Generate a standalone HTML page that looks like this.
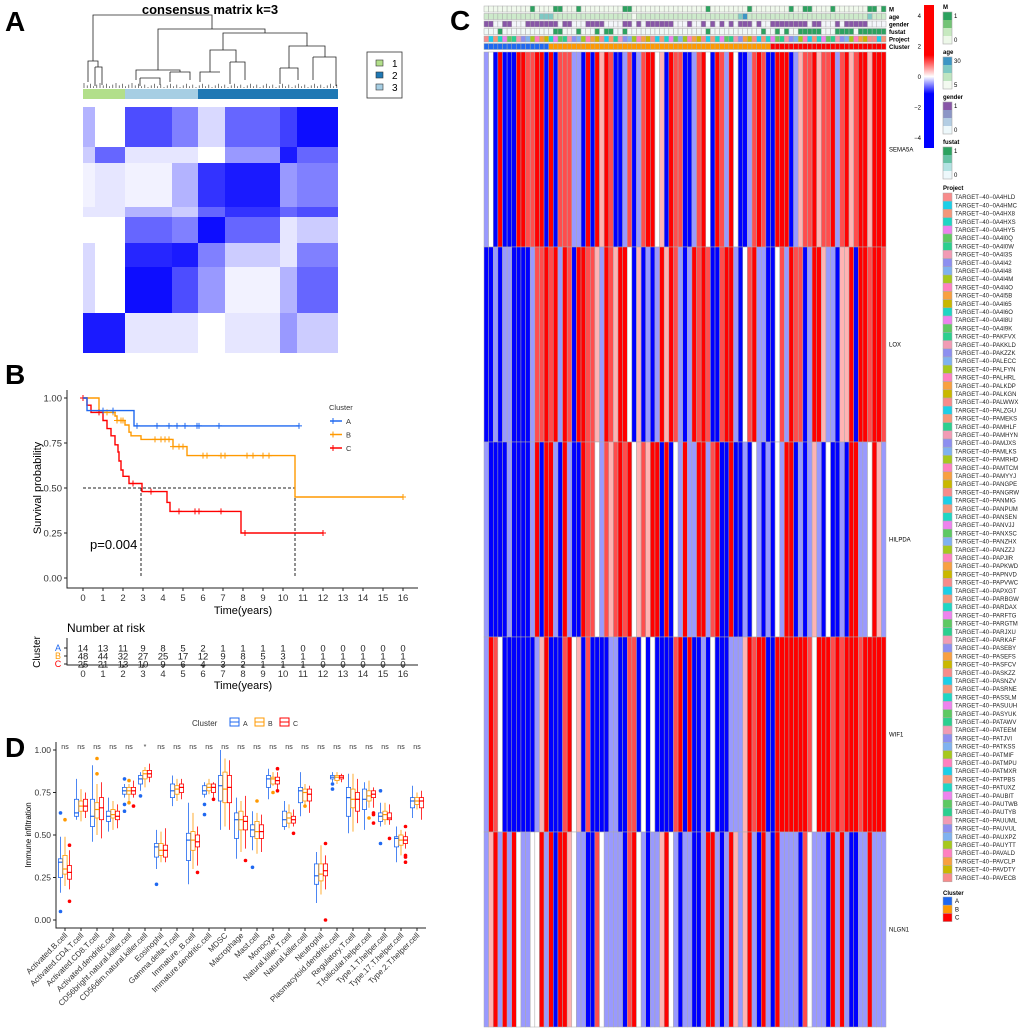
<!DOCTYPE html>
<html><head><meta charset="utf-8"><style>
html,body{margin:0;padding:0;background:#fff;}
svg{display:block;font-family:"Liberation Sans",sans-serif;}
</style></head><body>
<svg id="fig" width="1020" height="1035" viewBox="0 0 1020 1035" xmlns="http://www.w3.org/2000/svg">
<rect width="1020" height="1035" fill="#fff"/>
<text x="5" y="31" font-size="28" font-weight="bold">A</text>
<text x="5" y="384" font-size="28" font-weight="bold">B</text>
<text x="450" y="30" font-size="28" font-weight="bold">C</text>
<text x="5" y="757" font-size="28" font-weight="bold">D</text>
<g id="pa"></g>
<g id="pb"></g>
<g id="pc"></g>
<g id="pd"></g>
</svg>
<script>
// ---------- Panel A data ----------
const consRowBreaks = [107,147,163,207,217,243,267,313,353];
const consColBreaks = [83,95,125,172,198,225,280,297,338];
const consIntensity = [
 [.3,0,.7,.5,.15,.6,.75,.95],
 [.2,.6,.1,.1,0,.4,.9,.6],
 [.05,.1,.05,.3,.8,.9,.4,.5],
 [.1,.1,.3,.2,.6,.8,.6,.7],
 [0,0,.6,.5,.95,.6,.1,.2],
 [.15,0,.85,.9,.5,.2,.1,.5],
 [.15,0,.95,.7,.4,.05,.3,.6],
 [.9,.9,.1,.1,0,.1,.4,.2]
];
const consGroups = ["1","3","2"];
const consGroupEnds = [125,198,338];
// ---------- Panel B data ----------
const kmTimesA = [0,0.2,2.55,10.8];
const kmSurvA = [1,0.93,0.845,0.845];
const kmCensA = [1,1.5,2.7,3.7,4.3,4.7,5.1,5.7,5.8,6.8,10.8];
const kmTimesB = [0,0.8,1.6,1.7,2.1,2.3,2.4,2.9,4.5,5.2,10.6,16];
const kmSurvB = [1,0.92,0.9,0.875,0.85,0.81,0.79,0.77,0.73,0.68,0.45,0.45];
const kmCensB = [1.2,1.5,1.7,1.9,2.0,3.6,3.9,4.1,4.3,4.5,4.8,5.0,6.0,6.2,6.9,7.1,8.2,8.5,9.0,9.3,16];
const kmTimesC = [0,0.2,0.4,1,1.2,1.4,1.6,1.75,1.8,1.9,2,2.3,2.95,4.2,4.35,7.9,12];
const kmSurvC = [1,0.96,0.92,0.875,0.83,0.79,0.74,0.7,0.65,0.6,0.565,0.525,0.48,0.42,0.37,0.25,0.25];
const kmCensC = [0,0.8,2.5,3.4,4.8,5.6,5.8,6.9,8.1,12];
const riskA = [14,13,11,9,8,5,2,1,1,1,1,0,0,0,0,0,0];
const riskB = [48,44,32,27,25,17,12,9,8,5,3,1,1,1,1,1,1];
const riskC = [25,21,13,10,9,6,4,3,2,1,1,1,0,0,0,0,0];
const kmYTicks = ["0.00","0.25","0.50","0.75","1.00"];
const medianTimes = [2.9,10.6];
// ---------- Panel C data ----------
const genes = ["SEMA5A","LOX","HILPDA","WIF1","NLGN1"];
const exprSEMA5A = [-0.8,0,-3,3,-3,-3,-3,3,3,1.4, 1.4,3,3,-3,3,-3,1.4,1.4,1.4,-0.8, -0.8,-3,3,-3,3,0.6,3,1.4,-3,-3, -0.8,1.4,-3,-0.8,1.4,3,3,0,0.6,-3, 3,1.4,1.4,-3,-3,-0.8,1.4,3,0,-3, 3,1.4,-0.8,3,0,-3,-3,-0.8,1.4,3, 1.4,-3,-3,3,3,3,-3,-0.8,0.6,1.4, 1.4,3,0.6,1.4,1.4,3,-0.8,1.4,3,0.6, 1.4,3,3,0.6,3,3,3];
const exprLOX = [-3,-3,-0.8,-3,-0.8,-0.8,-3,-3,-3,-3, -0.8,1.4,1.4,3,1.4,3,-0.8,3,1.4,-3, 3,3,1.4,1.4,0.6,-0.8,3,1.4,0.6,3, 3,0,-3,0.6,-3,-0.8,-3,-0.8,3,0.6, 3,1.4,-0.8,-3,-0.8,3,1.4,3,1.4,-3, -3,1.4,3,3,-0.8,-3,0,1.4,3,-0.8, -0.8,-3,-3,0,1.4,-0.8,3,1.4,1.4,-3, -0.8,3,3,0.6,-0.8,-0.8,-3,0.6,0.6,3, -3,3,3,1.4,3,3,1.4];
const exprHILPDA = [-0.8,-3,-3,-3,-3,-0.8,-3,-3,-3,-3, -0.8,3,-3,3,3,-0.8,-3,3,-0.8,-3, -3,3,1.4,1.4,0,-0.8,1.4,0.6,1.4,3, 1.4,3,0,0.6,1.4,0.6,3,3,-3,3, -3,0,-0.8,3,-0.8,-0.8,3,3,-0.8,1.4, 3,-3,-3,3,-3,-3,-0.8,-3,0,-0.8, -3,-0.8,-3,0,-0.8,3,3,-3,-0.8,-3, -0.8,0.6,-0.8,-3,0,-3,-3,-0.8,-3,3, 3,-0.8,-0.8,0,3,0.6,-0.8];
const exprWIF1 = [-0.8,3,1.4,0,-3,-3,-3,-3,-3,-3, -3,-0.8,0.6,3,-3,-3,-3,1.4,3,0, 0.6,-3,1.4,-3,-3,-3,-3,-0.8,-0.8,-3, -3,1.4,1.4,-3,0,-3,0,-3,-3,-3, -3,1.4,3,-3,3,-3,-3,-0.8,-3,0, -3,-3,-3,-0.8,-0.8,-0.8,0.6,3,1.4,3, 3,-3,-3,3,3,3,3,3,3,3, 1.4,0,3,3,3,1.4,3,1.4,3,3, 3,1.4,3,3,3,3,3];
const exprNLGN1 = [-0.8,0.6,3,-0.8,3,-0.8,3,0,-0.8,-0.8, 0,0,3,-0.8,3,-3,3,3,0.6,0, -0.8,-0.8,-3,-3,1.4,0,-0.8,-0.8,-0.8,-0.8, -3,1.4,3,0,-0.8,-3,-0.8,-0.8,0.6,3, 0,-0.8,-3,-0.8,-0.8,-3,-3,-0.8,3,3, -0.8,-3,-0.8,3,0.6,-0.8,0.6,3,-0.8,-3, 3,-0.8,-3,3,-0.8,-0.8,-0.8,-0.8,-3,1.4, 0,-0.8,-0.8,-0.8,-3,3,-0.8,3,-0.8,-3, -3,-0.8,-0.8,3,-0.8,-0.8,-0.8];
const clusterCounts = [14,48,25];
const clusterNames = ["A","B","C"];
const mOnes = [10,15,16,20,30,31,48,57,66,69,70,75,83,84,86];
const genderOnes = [0,1,4,5,9,10,11,12,13,14,15,17,18,22,23,24,25,30,31,33,35,36,37,38,39,40,44,47,49,51,53,55,56,57,59,62,63,64,65,66,67,68,69,71,72,76,78,79,80,81,82];
const fustatOnes = [3,15,16,20,24,26,27,30,48,60,63,65,68,69,70,71,72,76,77,78,79,81,82,83,84,85,86];
const ages = [10,11,9,12,10,11,13,10,9,12, 11,10,18,20,19,11,10,12,9,10, 11,12,10,9,11,10,12,11,10,9, 10,11,6,12,10,11,10,9,12,10, 11,10,9,12,11,10,12,10,11,9, 10,11,12,10,9,19,28,11,10,12, 10,9,11,10,12,11,10,9,12,10, 11,10,12,9,10,11,10,12,9,11, 10,12,10,19,11,10,9];
const projects = ["0A4HLD","0A4HMC","0A4HX8","0A4HXS","0A4HY5","0A4I0Q","0A4I0W","0A4I3S","0A4I42","0A4I48","0A4I4M","0A4I4O","0A4I5B","0A4I65","0A4I6O","0A4I8U","0A4I9K","PAKFVX","PAKKLD","PAKZZK","PALECC","PALFYN","PALHRL","PALKDP","PALKGN","PALWWX","PALZGU","PAMEKS","PAMHLF","PAMHYN","PAMJXS","PAMLKS","PAMRHD","PAMTCM","PAMYYJ","PANGPE","PANGRW","PANMIG","PANPUM","PANSEN","PANVJJ","PANXSC","PANZHX","PANZZJ","PAPJIR","PAPKWD","PAPNVD","PAPVWC","PAPXGT","PARBGW","PARDAX","PARFTG","PARGTM","PARJXU","PARKAF","PASEBY","PASEFS","PASFCV","PASKZZ","PASNZV","PASRNE","PASSLM","PASUUH","PASYUK","PATAWV","PATEEM","PATJVI","PATKSS","PATMIF","PATMPU","PATMXR","PATPBS","PATUXZ","PAUBIT","PAUTWB","PAUTYB","PAUUML","PAUVUL","PAUXPZ","PAUYTT","PAVALD","PAVCLP","PAVDTY","PAVECB"];
const heatTicks = [4,2,0,-2,-4];
// ---------- Panel D data ----------
const cellTypes = ["Activated.B.cell","Activated.CD4.T.cell","Activated.CD8.T.cell","Activated.dendritic.cell","CD56bright.natural.killer.cell","CD56dim.natural.killer.cell","Eosinophil","Gamma.delta.T.cell","Immature..B.cell","Immature.dendritic.cell","MDSC","Macrophage","Mast.cell","Monocyte","Natural.killer.T.cell","Natural.killer.cell","Neutrophil","Plasmacytoid.dendritic.cell","Regulatory.T.cell","T.follicular.helper.cell","Type.1.T.helper.cell","Type.17.T.helper.cell","Type.2.T.helper.cell"];
const sigLabels = ["ns","ns","ns","ns","ns","*","ns","ns","ns","ns","ns","ns","ns","ns","ns","ns","ns","ns","ns","ns","ns","ns","ns"];
const boxA = [[.16,.25,.34,.36,.49],[.59,.61,.63,.71,.83],[.46,.55,.61,.71,.91],[.52,.58,.61,.64,.72],[.72,.74,.76,.78,.8],[.76,.8,.83,.85,.87],[.3,.37,.43,.45,.53],[.67,.72,.76,.8,.85],[.21,.35,.47,.51,.69],[.72,.74,.76,.79,.81],[.53,.7,.79,.85,1.0],[.36,.48,.59,.63,.72],[.41,.49,.53,.56,.64],[.71,.78,.83,.85,.89],[.53,.55,.59,.64,.7],[.61,.69,.76,.78,.87],[.1,.21,.26,.33,.4],[.81,.83,.84,.85,.87],[.51,.61,.72,.78,.86],[.53,.65,.71,.77,.81],[.55,.58,.61,.63,.69],[.34,.43,.48,.49,.55],[.6,.66,.7,.72,.79]];
const boxB = [[.2,.27,.3,.38,.49],[.58,.64,.67,.7,.77],[.5,.6,.65,.69,.8],[.53,.6,.62,.65,.7],[.7,.74,.76,.78,.8],[.78,.83,.86,.88,.9],[.34,.38,.41,.45,.52],[.7,.74,.77,.79,.83],[.3,.41,.47,.52,.63],[.74,.76,.78,.8,.83],[.55,.69,.77,.87,.95],[.4,.53,.59,.64,.7],[.39,.48,.52,.58,.63],[.79,.8,.83,.84,.87],[.54,.57,.6,.63,.68],[.66,.7,.75,.77,.8],[.15,.23,.27,.33,.44],[.8,.82,.84,.85,.87],[.52,.66,.71,.77,.86],[.66,.7,.73,.76,.82],[.56,.59,.62,.64,.69],[.38,.44,.47,.5,.53],[.65,.68,.7,.72,.75]];
const boxC = [[.18,.24,.28,.32,.41],[.6,.64,.67,.71,.75],[.48,.59,.66,.72,.81],[.54,.59,.61,.64,.68],[.72,.74,.76,.78,.82],[.81,.84,.86,.88,.92],[.34,.37,.41,.44,.54],[.71,.75,.78,.8,.83],[.32,.43,.46,.5,.55],[.72,.75,.78,.8,.81],[.53,.69,.78,.85,.94],[.42,.53,.58,.61,.73],[.4,.48,.52,.56,.62],[.77,.8,.82,.84,.87],[.55,.57,.59,.61,.65],[.63,.7,.74,.77,.79],[.18,.26,.29,.33,.38],[.81,.83,.84,.85,.86],[.57,.64,.71,.75,.83],[.66,.72,.74,.76,.78],[.56,.59,.6,.63,.68],[.42,.45,.47,.49,.52],[.59,.66,.7,.72,.76]];
const outA = [[.63,.05],[],[],[],[.83,.68,.64],[.73],[.21],[],[],[.68,.62],[],[],[.31],[],[],[],[],[.8,.77],[],[],[.76,.45],[],[]];
const outB = [[.59],[],[.95,.86],[],[.82,.69],[],[],[],[],[],[],[],[.7],[.75],[],[.67],[],[],[],[.6],[],[],[]];
const outC = [[.44,.11],[],[],[],[.67],[],[],[],[.28],[.71],[],[.35],[],[.89,.76],[.51],[],[.45,0],[],[],[.63,.62,.57],[.48],[.55,.38,.37,.34],[]];
const dYTicks = ["0.00","0.25","0.50","0.75","1.00"];

const NS="http://www.w3.org/2000/svg";
function mk(parent,tag,attrs,txt){const e=document.createElementNS(NS,tag);for(const k in attrs)e.setAttribute(k,attrs[k]);if(txt!==undefined)e.textContent=txt;parent.appendChild(e);return e;}
function blend(c,t){return `rgb(${Math.round(255+(c[0]-255)*t)},${Math.round(255+(c[1]-255)*t)},${Math.round(255+(c[2]-255)*t)})`;}
const CA="#1f68f0",CB="#ff9900",CC="#ff0000";

// ================= Panel A =================
(function(){
 const g=document.getElementById('pa');
 let t=mk(g,'text',{x:210,y:14,'font-size':13,'font-weight':'bold','text-anchor':'middle'},'consensus matrix k=3');
 
 
 for(let r=0;r<consIntensity.length;r++){for(let c=0;c<consIntensity[r].length;c++){
  const v=consIntensity[r][c];
  const cell=mk(g,'rect',{x:consColBreaks[c],y:consRowBreaks[r],width:consColBreaks[c+1]-consColBreaks[c],height:consRowBreaks[r+1]-consRowBreaks[r],fill:blend([0,0,255],v)});
  
  
 }}
 const gcol={"1":"#b2df8a","2":"#1f78b4","3":"#a6cee3"};
 let x0=83;
 consGroups.forEach((gn,i)=>{const r=mk(g,'rect',{x:x0,y:89,width:consGroupEnds[i]-x0,height:10,fill:gcol[gn]});
  
  
  x0=consGroupEnds[i];});
 const d="M93 61V15H212V29 M158 70V29H265V33 M223 50V33H307V46 M88 82V61H98V67 M95 67H102V85 M95 67V86 M136 80V70H180V72 M210 72V50H236V62 M289 68V46H325V57 M313 57H336V86 M313 57V80 M170 72H190V80 M170 72V82 M200 82V72H220 M230 62H245V80 M230 62V84 M280 68H298V80 M280 68V84 M140 78H160V85 M140 78V86";
 const p=mk(g,'path',{d:d,stroke:'#222',fill:'none','stroke-width':0.8});
 
 
 let leaves='';
 for(let x=84;x<338;x+=3.2){const h=83+((x*7)%4);leaves+=`M${x.toFixed(1)} ${h}V88 `;}
 mk(g,'path',{d:leaves,stroke:'#222','stroke-width':0.6,fill:'none'});
 const lb=mk(g,'rect',{x:367,y:52,width:35,height:46,fill:'#fff',stroke:'#333','stroke-width':0.8});
 
 
 ["1","2","3"].forEach((n,i)=>{mk(g,'rect',{x:376,y:60+i*12,width:7,height:6,fill:gcol[n],stroke:'#333','stroke-width':0.6});
  const tt=mk(g,'text',{x:392,y:67+i*12,'font-size':10},n);
  
  });
})();

// ================= Panel B =================
(function(){
 const g=document.getElementById('pb');
 const X=t=>83+t*20, Y=s=>578-s*180;
 mk(g,'path',{d:'M67 390V588H418',stroke:'#222',fill:'none','stroke-width':1});
 kmYTicks.forEach((lbl,i)=>{const y=Y(i*0.25);mk(g,'line',{x1:64,x2:67,y1:y,y2:y,stroke:'#222'});
  const t=mk(g,'text',{x:62,y:y+3.5,'font-size':9.5,'text-anchor':'end',fill:'#333'},lbl);
  
  });
 for(let i=0;i<=16;i++){const x=X(i);mk(g,'line',{x1:x,x2:x,y1:588,y2:591,stroke:'#222'});
  const t=mk(g,'text',{x:x,y:601,'font-size':9.5,'text-anchor':'middle',fill:'#333'},String(i));
  
  }
 let t=mk(g,'text',{x:243,y:614,'font-size':11,'text-anchor':'middle'},'Time(years)');
 
 
 t=mk(g,'text',{x:0,y:0,'font-size':11,'text-anchor':'middle',transform:'translate(41 488) rotate(-90)'},'Survival probability');
 
 
 const dash=mk(g,'path',{d:`M${X(0)} ${Y(0.5)}H${X(medianTimes[1])} M${X(medianTimes[0])} ${Y(0.5)}V${Y(0)} M${X(medianTimes[1])} ${Y(0.5)}V${Y(0)}`,stroke:'#222','stroke-dasharray':'3,2',fill:'none'});
 
 
 function curve(ts,ss,cs,col,name){
  let d=`M${X(ts[0])} ${Y(ss[0])}`;
  for(let i=1;i<ts.length;i++){d+=`H${X(ts[i])}V${Y(ss[i])}`;}
  const p=mk(g,'path',{d:d,stroke:col,fill:'none','stroke-width':1.4});
  
  
  cs.forEach(c=>{let s=ss[0];for(let i=0;i<ts.length;i++){if(ts[i]<=c)s=ss[i];}
   const m=mk(g,'path',{d:`M${X(c)-3} ${Y(s)}h6 M${X(c)} ${Y(s)-3}v6`,stroke:col,'stroke-width':1});
   
   });
 }
 curve(kmTimesB,kmSurvB,kmCensB,CB,'b');
 curve(kmTimesC,kmSurvC,kmCensC,CC,'c');
 curve(kmTimesA,kmSurvA,kmCensA,CA,'a');
 t=mk(g,'text',{x:90,y:549,'font-size':13},'p=0.004');
 
 
 t=mk(g,'text',{x:329,y:410,'font-size':7.5,fill:'#333'},'Cluster');
 
 
 [["A",CA],["B",CB],["C",CC]].forEach((e,i)=>{const y=421+i*13.5;
  mk(g,'line',{x1:330,x2:342,y1:y,y2:y,stroke:e[1],'stroke-width':1.5});
  mk(g,'path',{d:`M333 ${y-3}v6 M333 ${y}h6`,stroke:e[1],'stroke-width':1});
  const tt=mk(g,'text',{x:346,y:y+3,'font-size':7.5,fill:'#333'},e[0]);
  
  });
 t=mk(g,'text',{x:67,y:632,'font-size':12},'Number at risk');
 
 
 mk(g,'path',{d:'M67 638V665H418',stroke:'#222',fill:'none'});
 [[riskA,CA,"A"],[riskB,CB,"B"],[riskC,CC,"C"]].forEach((r,ri)=>{const y=648+ri*8;
  const l=mk(g,'text',{x:58,y:y+3,'font-size':9,fill:r[1],'text-anchor':'middle'},r[2]);
  
  
  mk(g,'line',{x1:64,x2:67,y1:y,y2:y,stroke:'#222'});
  r[0].forEach((v,i)=>{const tt=mk(g,'text',{x:X(i),y:y+3.5,'font-size':9.5,'text-anchor':'middle',fill:'#222'},String(v));
   
   });});
 for(let i=0;i<=16;i++){const x=X(i);mk(g,'line',{x1:x,x2:x,y1:665,y2:668,stroke:'#222'});
  const tt=mk(g,'text',{x:x,y:677,'font-size':9.5,'text-anchor':'middle',fill:'#333'},String(i));
  
  }
 t=mk(g,'text',{x:243,y:689,'font-size':11,'text-anchor':'middle'},'Time(years)');
 
 
 t=mk(g,'text',{x:0,y:0,'font-size':10,'text-anchor':'middle',transform:'translate(40 652) rotate(-90)'},'Cluster');
 
 
})();

// ================= Panel C =================
(function(){
 const g=document.getElementById('pc');
 const N=87,x0=484,x1=886,cw=(x1-x0)/N;
 const projPal=["#f88b8b","#1fd6c4","#2ccf8f","#7fb2f0","#f8a040","#1ccfe8","#ee82ee","#f29bb4","#a6c81e","#c9b800","#f4977a","#5ec962","#8d8ff0","#ff80c0"];
 const projColor=i=>projPal[(i*5+Math.floor(i/14))%projPal.length];
 function cell(x,y,w,h,f,name){const r=mk(g,'rect',{x:x,y:y,width:w,height:h,fill:f,stroke:'#aaa','stroke-width':0.5});
  
  return r;}
 const ageCol=a=>a<=7?"#f3faf0":a<=13?"#cdeacb":a<=22?"#7fc9c4":"#3c95c4";
 const clusterColors=[CA,CB,CC];
 let ci=0,cc=0;
 for(let i=0;i<N;i++){
  const x=x0+i*cw;
  cell(x,6,cw,6,mOnes.includes(i)?"#2ca25f":"#f0f9ec",'anno-m');
  cell(x,13.5,cw,6,ageCol(ages[i]),'anno-age');
  cell(x,21,cw,6,genderOnes.includes(i)?"#8856a7":"#f4f6fb",'anno-gender');
  cell(x,28.5,cw,6,fustatOnes.includes(i)?"#2ca25f":"#f0f9f6",'anno-fustat');
  cell(x,36,cw,6,projColor(i%projects.length),'anno-project');
  while(cc>=clusterCounts[ci]){ci++;cc=0;}
  cell(x,43.5,cw,6,clusterColors[ci],'anno-cluster');cc++;
 }
 ["M","age","gender","fustat","Project","Cluster"].forEach((n,i)=>{const t=mk(g,'text',{x:889,y:11.5+i*7.5,'font-size':6,'font-weight':'bold'},n);
  
  });
 const exprs=[exprSEMA5A,exprLOX,exprHILPDA,exprWIF1,exprNLGN1];
 const rowH=(1027-52)/genes.length;
 function heatColor(v){if(v>=0)return blend([255,0,0],Math.min(v/2,1));return blend([0,0,255],Math.min(-v/2,1));}
 exprs.forEach((arr,gi)=>{const y=52+gi*rowH;
  arr.forEach((v,i)=>{cell(x0+i*cw,y,cw,rowH,heatColor(v),'heat-cell');});
  const t=mk(g,'text',{x:889,y:y+rowH/2+2,'font-size':6},genes[gi]);
  
  });
 const defs=mk(g,'defs',{});
 const lg=mk(defs,'linearGradient',{id:'hg',x1:0,y1:0,x2:0,y2:1});
 [[0,'#ff0000'],[0.35,'#ff0000'],[0.5,'#ffffff'],[0.62,'#0000ff'],[1,'#0000ff']].forEach(s=>mk(lg,'stop',{offset:s[0],'stop-color':s[1]}));
 const cb=mk(g,'rect',{x:924,y:5,width:10,height:143,fill:'url(#hg)'});
 
 
 heatTicks.forEach((v,i)=>{const t=mk(g,'text',{x:921,y:18+i*30.5,'font-size':6,'text-anchor':'end'},v<0?'\u2212'+(-v):String(v));
  
  });
 function gradLegend(title,y,cols,hi,lo){
  const t=mk(g,'text',{x:943,y:y,'font-size':6,'font-weight':'bold'},title);
  
  
  const h=32/cols.length;
  cols.forEach((c,i)=>mk(g,'rect',{x:943,y:y+3+i*h,width:9,height:h,fill:c}));
  mk(g,'rect',{x:943,y:y+3,width:9,height:32,fill:'none',stroke:'#aaa','stroke-width':0.6});
  mk(g,'text',{x:954,y:y+9,'font-size':6},hi);
  mk(g,'text',{x:954,y:y+33,'font-size':6},lo);
 }
 gradLegend('M',9,["#2ca25f","#74c476","#c7e9c0","#edf8e9"],'1','0');
 gradLegend('age',54,["#3c95c4","#7fc9c4","#bfe5c0","#f3faf0"],'30','5');
 gradLegend('gender',99,["#8856a7","#8c96c6","#b3cde3","#edf8fb"],'1','0');
 gradLegend('fustat',144,["#2ca25f","#66c2a4","#b2e2e2","#edf8fb"],'1','0');
 let t=mk(g,'text',{x:943,y:190,'font-size':6,'font-weight':'bold'},'Project');
 
 
 projects.forEach((p,i)=>{const y=193+i*8.2;
  mk(g,'rect',{x:943,y:y,width:9,height:8.2,fill:projColor(i),stroke:'#aaa','stroke-width':0.5});
  const tt=mk(g,'text',{x:955,y:y+6.2,'font-size':6,fill:'#222'},'TARGET\u221240\u2212'+p);
  
  });
 t=mk(g,'text',{x:943,y:895,'font-size':6,'font-weight':'bold'},'Cluster');
 
 
 clusterNames.forEach((n,i)=>{const y=897+i*8.2;
  mk(g,'rect',{x:943,y:y,width:9,height:8.2,fill:clusterColors[i],stroke:'#aaa','stroke-width':0.5});
  const tt=mk(g,'text',{x:955,y:y+6.2,'font-size':6},n);
  
  });
})();

// ================= Panel D =================
(function(){
 const g=document.getElementById('pd');
 const Y=v=>920-v*170, X=i=>65+i*16;
 mk(g,'path',{d:'M56 742V928H426',stroke:'#222',fill:'none'});
 dYTicks.forEach((l,i)=>{const y=Y(i*0.25);mk(g,'line',{x1:53,x2:56,y1:y,y2:y,stroke:'#222'});
  const t=mk(g,'text',{x:51,y:y+3,'font-size':8.5,'text-anchor':'end',fill:'#333'},l);
  
  });
 let t=mk(g,'text',{x:0,y:0,'font-size':8,'text-anchor':'middle',transform:'translate(31 835) rotate(-90)'},'Immune infiltration');
 
 
 t=mk(g,'text',{x:192,y:726,'font-size':8,fill:'#333'},'Cluster');
 
 
 [["A",CA],["B",CB],["C",CC]].forEach((e,i)=>{const x=230+i*25;
  mk(g,'rect',{x:x,y:718,width:9,height:8,fill:'#fff',stroke:e[1],'stroke-width':1});
  mk(g,'line',{x1:x,x2:x+9,y1:722,y2:722,stroke:e[1]});
  const tt=mk(g,'text',{x:x+13,y:726,'font-size':7,fill:'#333'},e[0]);
  
  });
 const sets=[[boxA,outA,CA,-4.5],[boxB,outB,CB,0],[boxC,outC,CC,4.5]];
 cellTypes.forEach((ct,i)=>{
  const cx=X(i);
  mk(g,'line',{x1:cx,x2:cx,y1:928,y2:931,stroke:'#222'});
  const s=mk(g,'text',{x:cx,y:749,'font-size':7,'text-anchor':'middle',fill:'#333'},sigLabels[i]);
  
  
  const lt=mk(g,'text',{x:0,y:0,'font-size':8,'text-anchor':'end',fill:'#333',transform:`translate(${cx+3} 936) rotate(-45)`},ct);
  
  
  sets.forEach(st=>{const b=st[0][i],x=cx+st[3],c=st[2],w=4.2;
   mk(g,'line',{x1:x,x2:x,y1:Y(b[0]),y2:Y(b[4]),stroke:c,'stroke-width':0.8});
   const r=mk(g,'rect',{x:x-w/2,y:Y(b[3]),width:w,height:Y(b[1])-Y(b[3]),fill:'#fff',stroke:c,'stroke-width':0.8});
   
   
   mk(g,'line',{x1:x-w/2,x2:x+w/2,y1:Y(b[2]),y2:Y(b[2]),stroke:c,'stroke-width':1.2});
   st[1][i].forEach(o=>{const p=mk(g,'circle',{cx:x,cy:Y(o),r:1.8,fill:c});
    
    });
  });
 });
})();
</script>
</body></html>
